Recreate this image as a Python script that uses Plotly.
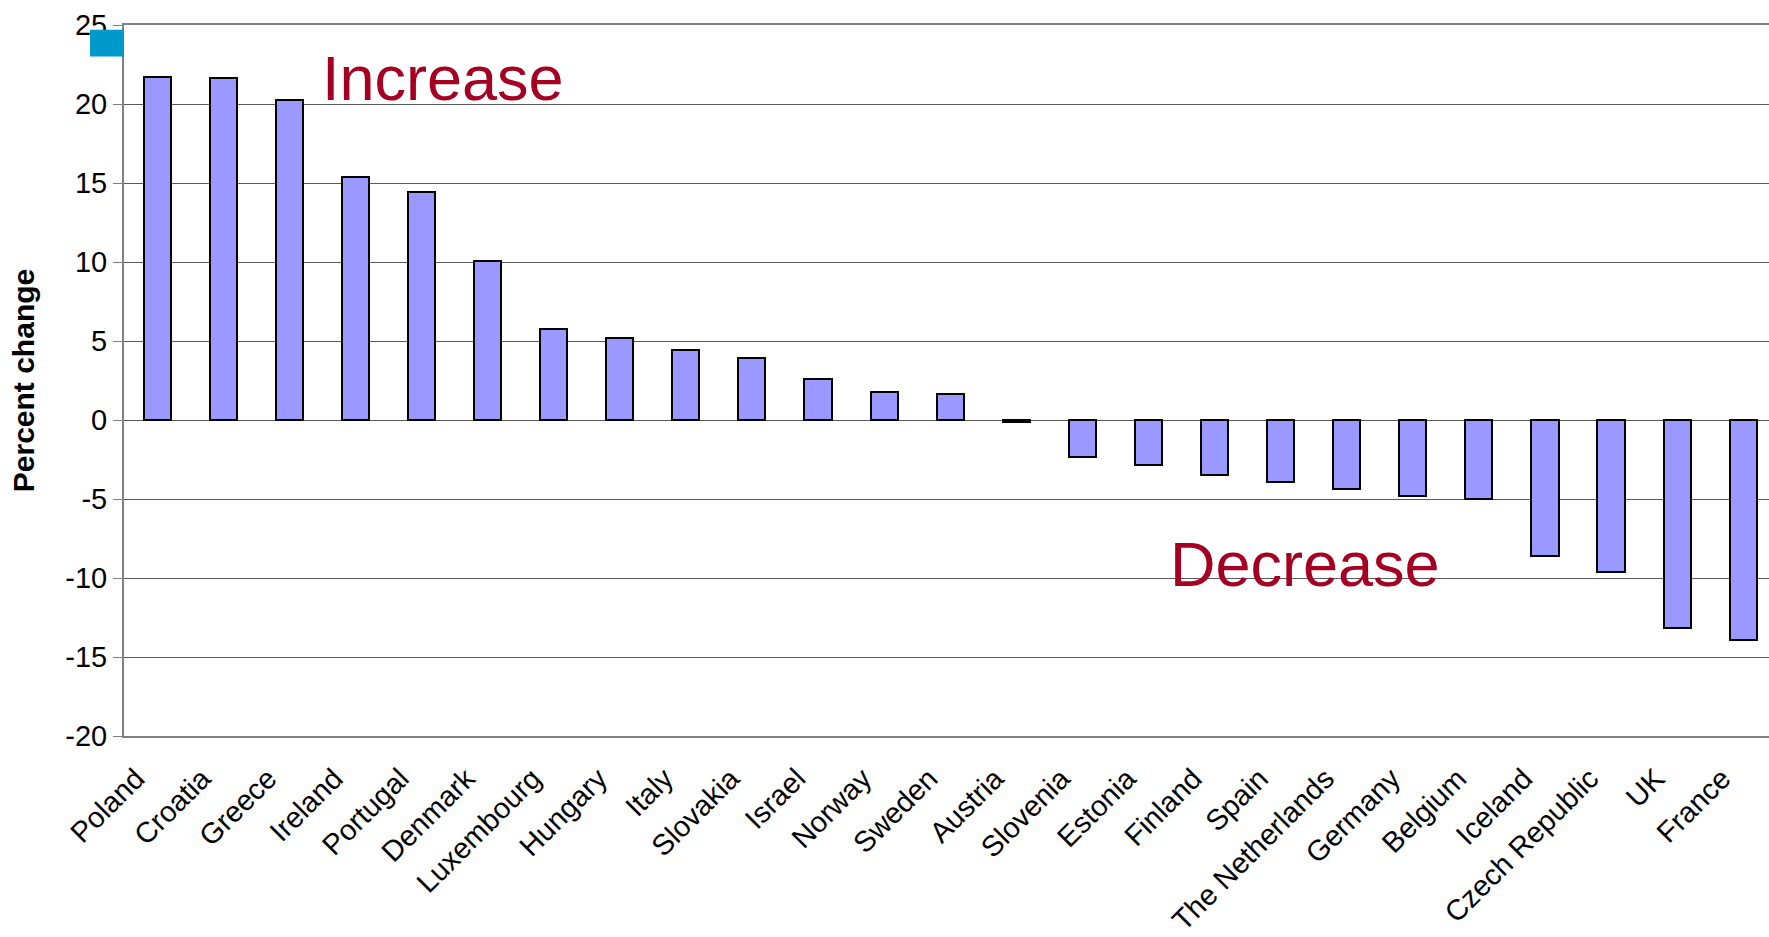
import plotly.graph_objects as go

countries = ["Poland", "Croatia", "Greece", "Ireland", "Portugal", "Denmark", "Luxembourg",
             "Hungary", "Italy", "Slovakia", "Israel", "Norway", "Sweden", "Austria",
             "Slovenia", "Estonia", "Finland", "Spain", "The Netherlands", "Germany",
             "Belgium", "Iceland", "Czech Republic", "UK", "France"]
pct_change = [21.7, 21.65, 20.25, 15.4, 14.4, 10.05, 5.75, 5.2, 4.45, 3.95, 2.6, 1.75, 1.65,
              -0.15, -2.35, -2.85, -3.45, -3.9, -4.35, -4.8, -5.0, -8.6, -9.65, -13.15, -13.95]
y_ticks = [25, 20, 15, 10, 5, 0, -5, -10, -15, -20]
y_tick_labels = ["25", "20", "15", "10", "5", "0", "-5", "-10", "-15", "-20"]

FONT = "Liberation Sans, Arial, sans-serif"
n = len(countries)
x_range = [-0.5, n - 0.61]

fig = go.Figure()
fig.add_trace(go.Bar(
    x=list(range(n)), y=pct_change, width=0.41,
    marker=dict(color="#9999FF", line=dict(color="black", width=2)),
    showlegend=False, hoverinfo="skip",
))

fig.update_layout(
    width=1769, height=937,
    margin=dict(l=124, r=0, t=25, b=201),
    plot_bgcolor="white", paper_bgcolor="white",
    font=dict(family=FONT, color="black"),
    bargap=0,
    xaxis=dict(
        type="linear", range=x_range, automargin=False,
        tickmode="array", tickvals=list(range(n)), ticktext=countries,
        tickangle=-45, tickfont=dict(size=29, family=FONT),
        ticks="", ticklabelstandoff=12, ticklabelshift=-21,
        showgrid=False, zeroline=False,
        showline=True, linecolor="#808080", linewidth=2, mirror=True,
    ),
    xaxis2=dict(
        type="linear", range=x_range, overlaying="x", anchor="free",
        position=(0 - y_ticks[-1]) / (y_ticks[0] - y_ticks[-1]),
        tickmode="array", tickvals=[i + 0.5 for i in range(n - 1)],
        ticks="outside", ticklen=10, tickcolor="#555555", tickwidth=1,
        showticklabels=False, showgrid=False, zeroline=False,
        showline=True, linecolor="black", linewidth=1.5,
    ),
    yaxis=dict(
        range=[y_ticks[-1], y_ticks[0]], automargin=False,
        tickmode="array", tickvals=y_ticks, ticktext=y_tick_labels,
        tickfont=dict(size=29, family=FONT),
        ticks="outside", ticklen=9, tickcolor="#808080", tickwidth=1,
        showgrid=True, gridcolor="#5a5a5a", gridwidth=1,
        zeroline=False, showline=True, linecolor="#808080", linewidth=2,
        title=dict(text="<b>Percent change</b>", font=dict(size=30, family=FONT), standoff=22),
    ),
    annotations=[
        dict(text="Increase", x=4.33, y=21.65, xref="x", yref="y", showarrow=False,
             font=dict(size=63, color="#A50021", family=FONT)),
        dict(text="Decrease", x=17.37, y=-9.1, xref="x", yref="y", showarrow=False,
             font=dict(size=63, color="#A50021", family=FONT)),
    ],
    shapes=[
        dict(type="rect", xref="paper", yref="y", x0=-34 / 1645, x1=0, y0=23.0, y1=24.7,
             fillcolor="#0099CC", line=dict(width=0), layer="above"),
    ],
)

fig.write_html("out.html")
